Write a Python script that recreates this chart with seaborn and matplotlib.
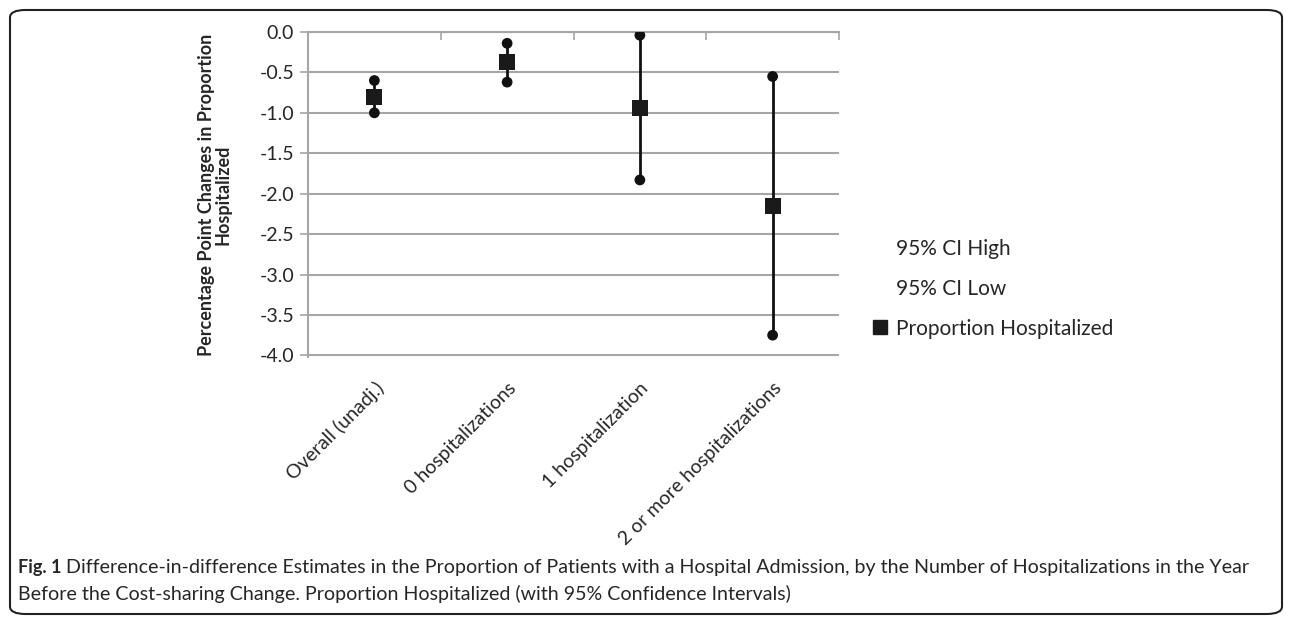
import numpy as np
import pandas as pd
import matplotlib
matplotlib.use("Agg")
import matplotlib.pyplot as plt
from matplotlib.lines import Line2D
from matplotlib.patches import FancyBboxPatch
import seaborn as sns

# data
groups = ["Overall (unadj.)", "0 hospitalizations", "1 hospitalization",
          "2 or more hospitalizations"]
ci_high = [-0.60, -0.14, -0.04, -0.55]
ci_low = [-1.00, -0.62, -1.83, -3.75]
prop_hosp = [-0.80, -0.37, -0.94, -2.15]

y_ticks = np.arange(-4.0, 0.01, 0.5)

sns.set_theme(style="white")
plt.rcParams["font.family"] = ["Lato", "DejaVu Sans"]

df = pd.DataFrame({"group": groups, "high": ci_high, "low": ci_low,
                   "prop": prop_hosp})

W, H = 1292, 622
fig = plt.figure(figsize=(W / 100, H / 100), dpi=100)
ax = fig.add_axes([308 / W, 1 - 357 / H, (839 - 308) / W, (357 - 32) / H])

GRID = "#a6a6a6"

# whiskers
ax.vlines(df["group"], df["low"], df["high"], color="#111111", lw=2, zorder=3)
# CI end points
long = df.melt(id_vars="group", value_vars=["high", "low"], value_name="val")
sns.scatterplot(data=long, x="group", y="val", ax=ax, color="#111111",
                marker="o", s=60, edgecolor="none", zorder=4, legend=False)
# point estimate
sns.scatterplot(data=df, x="group", y="prop", ax=ax, color="#1a1a1a",
                marker="s", s=130, edgecolor="none", zorder=5, legend=False)

ax.set_xlim(-0.5, len(groups) - 0.5)
ax.set_yticks(y_ticks)
ax.set_yticklabels([f"{v:.1f}" for v in y_ticks], fontsize=14)
ax.yaxis.grid(True, color=GRID, lw=1.5)
ax.set_axisbelow(True)
ax.set_ylim(-4.02, 0.0)

ax.set_xticks(range(len(groups)))
ax.set_xticklabels(groups, rotation=45, ha="right", rotation_mode="anchor",
                   fontsize=14)
ax.tick_params(axis="x", length=0, pad=16)
ax.tick_params(axis="y", length=6, color=GRID, width=1.2, left=True, pad=4)

# category boundary ticks along top axis line (Excel style)
ax.set_xticks(np.arange(0.5, len(groups), 1.0), minor=True)
ax.tick_params(axis="x", which="minor", top=True, bottom=False,
               direction="in", length=6, color=GRID, width=1.2)

for side in ["right", "bottom"]:
    ax.spines[side].set_visible(False)
for side in ["left", "top"]:
    ax.spines[side].set_color(GRID)
    ax.spines[side].set_linewidth(1.5)

ax.set_xlabel("")
ax.set_ylabel("Percentage Point Changes in Proportion\nHospitalized",
              fontsize=13, fontweight="bold", labelpad=20, linespacing=1.0)

handles = [
    Line2D([], [], linestyle="none", marker=None),
    Line2D([], [], linestyle="none", marker=None),
    Line2D([], [], linestyle="none", marker="s", color="#1a1a1a",
           markersize=10),
]
fig.legend(handles, ["95% CI High", "95% CI Low", "Proportion Hospitalized"],
           loc="center left", bbox_to_anchor=(853 / W, 1 - 289 / H),
           frameon=False, fontsize=15, labelspacing=0.95,
           handlelength=0.8, handletextpad=0.35)

# caption: bold lead-in, then the rest sized to the reference width
cap1 = ("Difference-in-difference Estimates in the Proportion of Patients with "
        "a Hospital Admission, by the Number of Hospitalizations in the Year")
cap2 = ("Before the Cost-sharing Change. Proportion Hospitalized "
        "(with 95% Confidence Intervals)")
renderer = fig.canvas.get_renderer()
lead = fig.text(18 / W, 1 - 568 / H, "Fig. 1", fontsize=13, fontweight="bold",
                va="center", ha="left")
lead_w = lead.get_window_extent(renderer).width
x1 = 18 + lead_w + 5
t1 = fig.text(x1 / W, 1 - 568 / H, cap1, fontsize=12, va="center", ha="left")
w1 = t1.get_window_extent(renderer).width
fs = 12 * (1248 - x1) / w1
t1.set_fontsize(fs)
fig.text(18 / W, 1 - 594 / H, cap2, fontsize=fs, va="center", ha="left")

# rounded frame around the whole figure
frame = FancyBboxPatch((10 / W, 8 / H), 1272 / W, 604 / H,
                       boxstyle="round,pad=0,rounding_size=0.012",
                       transform=fig.transFigure, fill=False,
                       edgecolor="#222222", lw=1.5)
fig.patches.append(frame)

fig.savefig("out.png", dpi=100)
